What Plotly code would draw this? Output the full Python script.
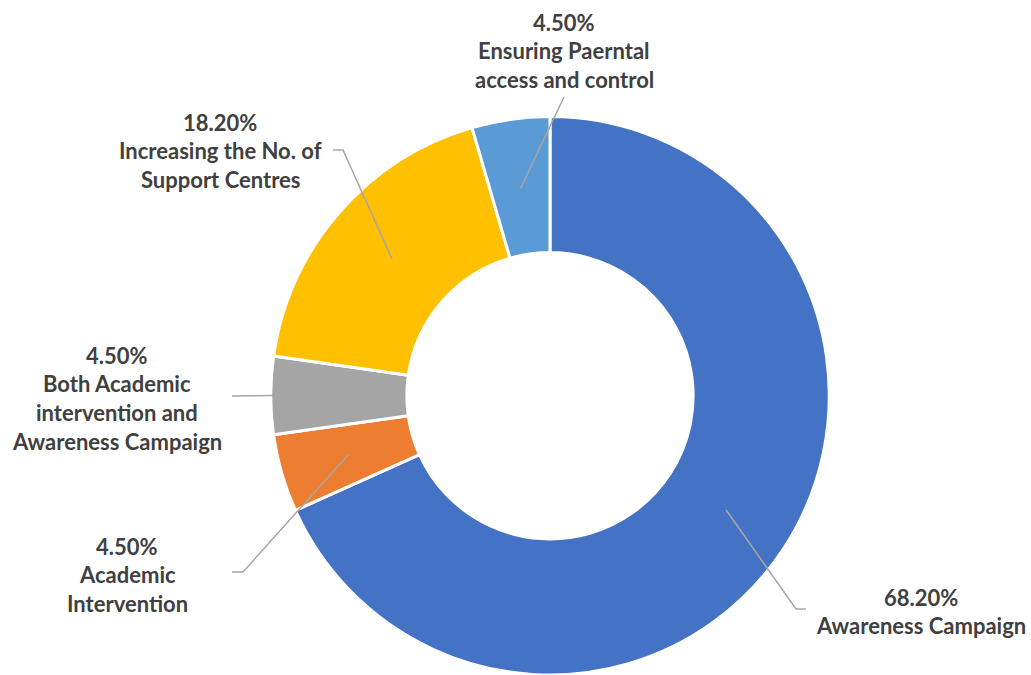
import math
import plotly.graph_objects as go

labels = ["Awareness Campaign", "Academic Intervention",
          "Both Academic intervention and Awareness Campaign",
          "Increasing the No. of Support Centres",
          "Ensuring Paerntal access and control"]
values = [68.2, 4.5, 4.5, 18.2, 4.5]
pct_text = ["68.20%", "4.50%", "4.50%", "18.20%", "4.50%"]
label_lines = [["Awareness Campaign"],
               ["Academic", "Intervention"],
               ["Both Academic", "intervention and", "Awareness Campaign"],
               ["Increasing the No. of", "Support Centres"],
               ["Ensuring Paerntal", "access and control"]]
colors = ["#4472C4", "#ED7D31", "#A5A5A5", "#FFC000", "#5B9BD5"]

W, H = 1031, 675
CX, CY, R_OUT, R_IN = 550, 396, 277, 142
PAD = 2.5  # compensate plotly's slight inset of the pie radius

# label block layout (pixel): center x, y of first line, line pitch
label_pos = [(921, 597), (127, 546), (117, 355), (220, 122), (564, 22)]
PITCH = 28.7
# leader elbow points (pixel) and end radius
elbows = [[(806, 609), (796, 609)],
          [(232, 572), (243, 572)],
          [(232, 396)],
          [(333, 150), (343, 150)],
          [(564, 97)]]
end_r = [None, None, R_OUT, None, None]

def px(x):
    return x / W

def py(y):
    return 1 - y / H

fig = go.Figure()
fig.add_trace(go.Pie(
    labels=labels, values=values, sort=False, direction="clockwise",
    rotation=0, hole=R_IN / R_OUT,
    marker=dict(colors=colors, line=dict(color="white", width=3)),
    textinfo="none", hoverinfo="label+percent", showlegend=False,
    domain=dict(x=[px(CX - R_OUT - PAD), px(CX + R_OUT + PAD)],
                y=[max(0.0, py(CY + R_OUT + PAD)), py(CY - R_OUT - PAD)]),
))

total = sum(values)
cum = 0
font = dict(family="Lato, Open Sans, sans-serif", size=22, color="#404040")
for i, v in enumerate(values):
    mid = (cum + v / 2) / total * 2 * math.pi
    cum += v
    r = end_r[i] if end_r[i] else (R_IN + R_OUT) / 2
    ex = CX + r * math.sin(mid)
    ey = CY - r * math.cos(mid)
    pts = elbows[i] + [(ex, ey)]
    path = "M " + " L ".join(f"{px(x):.5f},{py(y):.5f}" for x, y in pts)
    fig.add_shape(type="path", path=path, xref="paper", yref="paper",
                  line=dict(color="#A6A6A6", width=1.5))
    lx, ly = label_pos[i]
    for j, t in enumerate([pct_text[i]] + label_lines[i]):
        fig.add_annotation(x=px(lx), y=py(ly + j * PITCH), xref="paper", yref="paper",
                           text=f"<b>{t}</b>", showarrow=False,
                           xanchor="center", yanchor="middle", font=font)

fig.update_layout(width=W, height=H, margin=dict(l=0, r=0, t=0, b=0),
                  paper_bgcolor="white", plot_bgcolor="white")
fig.write_html("out.html")
